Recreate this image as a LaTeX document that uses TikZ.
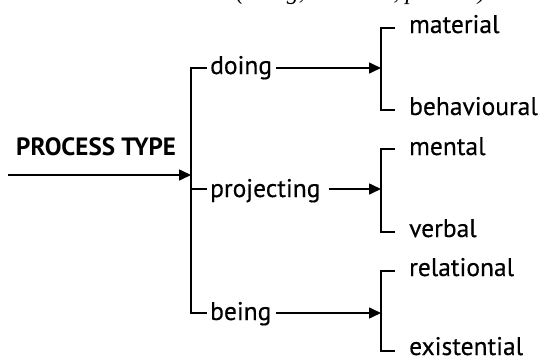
\documentclass[tikz,border=0pt]{standalone}
\usepackage{fontspec}
\setmainfont{PT Sans}
\newfontfamily\labelfont[FakeBold=0.35]{PT Sans}
\newfontfamily\captionserif{Liberation Serif}
\usetikzlibrary{arrows.meta}
\tikzset{
  x=1pt, y=-1pt,
  conn/.style={line width=1.6pt, black},
  arr/.style={conn, -{Triangle[length=12pt,width=11pt]}},
  term/.style={inner sep=0pt, anchor=base west, font=\labelfont\fontsize{25.5}{30}\selectfont},
  head/.style={inner sep=0pt, anchor=base west, font=\fontsize{25}{30}\selectfont\bfseries},
}
\begin{document}
\begin{tikzpicture}
\useasboundingbox (0,0) rectangle (542,359);
\begin{scope}
  \clip (0,0) rectangle (542,359);
  % caption line running above the figure
  \node[anchor=base west, inner sep=0pt, font=\captionserif\itshape\fontsize{24}{28}\selectfont]
    (cap) at (236,-1) {(doing, thematic, process)};
\end{scope}

% entry condition
\node[head] (pt) at (16,155) {PROCESS TYPE};
\coordinate (src) at (8,175);
\coordinate (sys) at (191,175);
\draw[arr] (src) -- (sys);

% first system
\node[term] (doing) at (210,74)  {doing};
\node[term] (proj)  at (210,197) {projecting};
\node[term] (being) at (210,320) {being};
\coordinate (top) at (191,68);
\coordinate (mid) at (191,189);
\coordinate (bot) at (191,313);
\draw[conn] (top -| doing.west) ++(-3,0) -- (top) -- (bot) -- ++(16,0);
\draw[conn] (mid) -- ++(16,0);

% sub-systems: entry points of the three brackets
\coordinate (b1) at (381,68);
\coordinate (b2) at (381,189);
\coordinate (b3) at (381,313);
\draw[arr] ([xshift=4pt]doing.east |- b1) -- (b1);
\draw[arr] ([xshift=8pt]proj.east |- b2) -- (b2);
\draw[arr] ([xshift=4pt]being.east |- b3) -- (b3);

\node[term] (mat) at (409,33)  {material};
\node[term] (beh) at (409,115) {behavioural};
\node[term] (men) at (409,155) {mental};
\node[term] (ver) at (409,237) {verbal};
\node[term] (rel) at (409,276) {relational};
\node[term] (exi) at (409,355) {existential};

% bracket corners
\coordinate (m1) at (381,28);  \coordinate (n1) at (381,110);
\coordinate (m2) at (381,149); \coordinate (n2) at (381,232);
\coordinate (m3) at (381,271); \coordinate (n3) at (381,351);
\foreach \i in {1,2,3}
  \draw[conn] ([xshift=14pt]m\i) -- (m\i) -- (n\i) -- ([xshift=14pt]n\i);
\end{tikzpicture}
\end{document}
